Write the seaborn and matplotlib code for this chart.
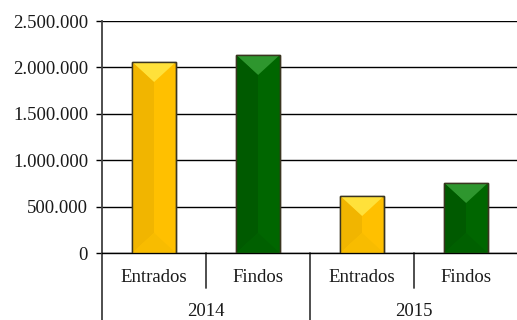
import matplotlib
matplotlib.use("Agg")
import matplotlib.pyplot as plt
import matplotlib.ticker as mticker
from matplotlib.patches import Polygon, Rectangle
from matplotlib.lines import Line2D
import seaborn as sns
import pandas as pd

# Processos entrados e findos por ano
anos = ["2014", "2014", "2015", "2015"]
tipos = ["Entrados", "Findos", "Entrados", "Findos"]
valores = [2058000, 2134000, 614000, 754000]
grupos = ["2014", "2015"]

cores = {"Entrados": "#FFC000", "Findos": "#006600"}
# tons do chanfro: (topo, lado esquerdo, base)
chanfro = {
    "Entrados": ("#FFE13A", "#F1B500", "#F8BC00"),
    "Findos": ("#2E962E", "#005A00", "#006000"),
}

df = pd.DataFrame({
    "posicao": [f"{a} {t}" for a, t in zip(anos, tipos)],
    "tipo": tipos,
    "valor": valores,
})

sns.set_theme(style="white")
plt.rcParams["font.family"] = ["Liberation Serif", "DejaVu Serif"]
plt.rcParams["font.size"] = 13.5

W, H = 517, 320
fig = plt.figure(figsize=(W / 100, H / 100), dpi=100)
ax_l, ax_b, ax_w, ax_h = 102, 67, 416, 232
ax = fig.add_axes([ax_l / W, ax_b / H, ax_w / W, ax_h / H])

sns.barplot(data=df, x="posicao", y="valor", hue="tipo", palette=cores,
            dodge=False, width=0.42, saturation=1, edgecolor="#3a3520",
            linewidth=1.0, legend=False, ax=ax, zorder=3)

ax.set_xlim(-0.5, len(valores) - 0.5)
ax.set_ylim(0, 2500000)
ax.set_yticks(range(0, 2500001, 500000))
ax.yaxis.set_major_formatter(
    mticker.FuncFormatter(lambda v, _: f"{int(v):,}".replace(",", ".")))
ax.set_axisbelow(True)
ax.yaxis.grid(True, color="black", linewidth=1.0)
ax.xaxis.grid(False)

for s in ("top", "right"):
    ax.spines[s].set_visible(False)
ax.spines["left"].set_color("#404040")
ax.spines["left"].set_linewidth(1.3)
ax.spines["bottom"].set_color("black")
ax.spines["bottom"].set_linewidth(1.0)

ax.tick_params(axis="y", left=True, length=4, width=1, color="black",
               pad=6, labelsize=13.5, labelcolor="#1a1a1a")
ax.tick_params(axis="x", length=0, labelbottom=False)
ax.set_xlabel("")
ax.set_ylabel("")

# Chanfro das barras, calculado a partir da geometria de cada barra
fig.canvas.draw()
to_px = ax.transData
to_data = ax.transData.inverted()
bars = [p for p in ax.patches if isinstance(p, Rectangle) and p.get_height() > 0]
bars = sorted(bars, key=lambda p: p.get_x())
for p, tipo in zip(bars, tipos):
    (L, B), (R, T) = to_px.transform([(p.get_x(), p.get_y()),
                                      (p.get_x() + p.get_width(), p.get_y() + p.get_height())])
    c = (L + R) / 2
    d = (R - L) / 2 * 0.92
    topo, esq, base = chanfro[tipo]
    faces = [
        ([(L, T), (R, T), (c, T - d)], topo),
        ([(L, T), (c, T - d), (c, B + d), (L, B)], esq),
        ([(L, B), (R, B), (c, B + d)], base),
    ]
    for pts, cor in faces:
        ax.add_patch(Polygon(to_data.transform(pts), closed=True,
                             facecolor=cor, edgecolor="none", zorder=3.5))
    ax.add_patch(Rectangle((p.get_x(), p.get_y()), p.get_width(), p.get_height(),
                           fill=False, edgecolor="#3a3520", linewidth=1.0, zorder=4))

# Eixo de categorias em dois níveis
xt = ax.get_xaxis_transform()
fundo = -ax_b / ax_h
ax.add_line(Line2D([-0.5, -0.5], [0, fundo], transform=xt, color="#404040",
                   linewidth=1.3, clip_on=False))
for i in range(len(valores) - 1):
    x = i + 0.5
    longa = (i % 2 == 1)
    ax.add_line(Line2D([x, x], [0, fundo if longa else -35 / ax_h], transform=xt,
                       color="#404040", linewidth=1.3, clip_on=False))

for i, t in enumerate(tipos):
    ax.text(i, -25 / ax_h, t, transform=xt, ha="center", va="center",
            fontsize=13.5, color="#1a1a1a")
for j, g in enumerate(grupos):
    ax.text(2 * j + 0.5, -63 / ax_h, g, transform=xt, ha="center", va="baseline",
            fontsize=13.5, color="#1a1a1a")

fig.savefig("out.png", dpi=100)
